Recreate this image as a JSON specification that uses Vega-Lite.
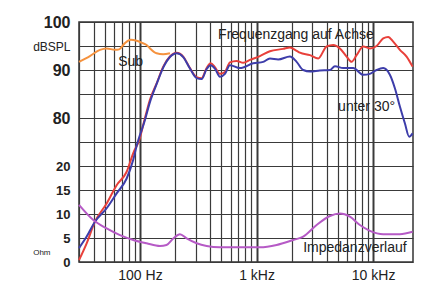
{
  "$schema": "https://vega.github.io/schema/vega-lite/v6.json",
  "width": 334,
  "height": 240,
  "autosize": "none",
  "padding": {"left": 79, "top": 22, "right": 28, "bottom": 25},
  "background": "white",
  "config": {
    "view": {"stroke": "#333333", "strokeWidth": 1.5},
    "font": "Liberation Sans"
  },
  "datasets": {
    "spl": [
      {"series": "Sub", "freq": 30, "db": 91.7},
      {"series": "Sub", "freq": 37.2, "db": 92.9},
      {"series": "Sub", "freq": 45.4, "db": 94.2},
      {"series": "Sub", "freq": 51.8, "db": 94.5},
      {"series": "Sub", "freq": 61, "db": 94.2},
      {"series": "Sub", "freq": 66.4, "db": 94.3},
      {"series": "Sub", "freq": 74.3, "db": 95.6},
      {"series": "Sub", "freq": 83.2, "db": 96.3},
      {"series": "Sub", "freq": 93.7, "db": 96.1},
      {"series": "Sub", "freq": 103, "db": 95.7},
      {"series": "Sub", "freq": 114, "db": 95.2},
      {"series": "Sub", "freq": 122, "db": 94.5},
      {"series": "Sub", "freq": 139, "db": 93.5},
      {"series": "Sub", "freq": 158, "db": 93.3},
      {"series": "Sub", "freq": 181, "db": 93.5},
      {"series": "Achse", "freq": 30, "db": 50.4},
      {"series": "Achse", "freq": 34.9, "db": 53.9},
      {"series": "Achse", "freq": 41.1, "db": 58.4},
      {"series": "Achse", "freq": 51.8, "db": 62.2},
      {"series": "Achse", "freq": 63.1, "db": 66.0},
      {"series": "Achse", "freq": 76.9, "db": 68.8},
      {"series": "Achse", "freq": 87.6, "db": 72.7},
      {"series": "Achse", "freq": 98.6, "db": 75.4},
      {"series": "Achse", "freq": 110.4, "db": 80.0},
      {"series": "Achse", "freq": 121.8, "db": 83.8},
      {"series": "Achse", "freq": 139.1, "db": 87.2},
      {"series": "Achse", "freq": 158.4, "db": 90.7},
      {"series": "Achse", "freq": 180.8, "db": 92.8},
      {"series": "Achse", "freq": 206.4, "db": 93.6},
      {"series": "Achse", "freq": 235.1, "db": 92.8},
      {"series": "Achse", "freq": 268.5, "db": 90.4},
      {"series": "Achse", "freq": 306.4, "db": 88.5},
      {"series": "Achse", "freq": 338.2, "db": 88.3},
      {"series": "Achse", "freq": 373.3, "db": 90.4},
      {"series": "Achse", "freq": 404.0, "db": 91.4},
      {"series": "Achse", "freq": 439.8, "db": 90.6},
      {"series": "Achse", "freq": 485.5, "db": 89.2},
      {"series": "Achse", "freq": 535.8, "db": 89.6},
      {"series": "Achse", "freq": 591.3, "db": 91.6},
      {"series": "Achse", "freq": 675.1, "db": 91.9},
      {"series": "Achse", "freq": 769.0, "db": 91.5},
      {"series": "Achse", "freq": 877.7, "db": 92.1},
      {"series": "Achse", "freq": 1069.5, "db": 92.9},
      {"series": "Achse", "freq": 1302.8, "db": 93.9},
      {"series": "Achse", "freq": 1694, "db": 94.4},
      {"series": "Achse", "freq": 1934, "db": 94.7},
      {"series": "Achse", "freq": 2208, "db": 94.0},
      {"series": "Achse", "freq": 2357, "db": 93.6},
      {"series": "Achse", "freq": 2871, "db": 93.1},
      {"series": "Achse", "freq": 3382, "db": 92.4},
      {"series": "Achse", "freq": 3993, "db": 94.9},
      {"series": "Achse", "freq": 4549, "db": 95.2},
      {"series": "Achse", "freq": 5192, "db": 94.5},
      {"series": "Achse", "freq": 5925, "db": 92.8},
      {"series": "Achse", "freq": 6540, "db": 91.7},
      {"series": "Achse", "freq": 7220, "db": 93.1},
      {"series": "Achse", "freq": 8226, "db": 94.9},
      {"series": "Achse", "freq": 9387, "db": 94.5},
      {"series": "Achse", "freq": 10720, "db": 95.0},
      {"series": "Achse", "freq": 12210, "db": 96.6},
      {"series": "Achse", "freq": 13480, "db": 96.9},
      {"series": "Achse", "freq": 14880, "db": 95.9},
      {"series": "Achse", "freq": 16980, "db": 94.2},
      {"series": "Achse", "freq": 19380, "db": 92.8},
      {"series": "Achse", "freq": 21820, "db": 90.7},
      {"series": "30°", "freq": 30, "db": 52.9},
      {"series": "30°", "freq": 34.9, "db": 55.3},
      {"series": "30°", "freq": 41.1, "db": 58.4},
      {"series": "30°", "freq": 51.8, "db": 61.2},
      {"series": "30°", "freq": 63.1, "db": 64.3},
      {"series": "30°", "freq": 76.9, "db": 67.4},
      {"series": "30°", "freq": 87.6, "db": 71.3},
      {"series": "30°", "freq": 93.7, "db": 74.2},
      {"series": "30°", "freq": 110.4, "db": 79.6},
      {"series": "30°", "freq": 121.8, "db": 83.3},
      {"series": "30°", "freq": 139.1, "db": 87.1},
      {"series": "30°", "freq": 158.4, "db": 90.5},
      {"series": "30°", "freq": 180.8, "db": 92.7},
      {"series": "30°", "freq": 206.4, "db": 93.5},
      {"series": "30°", "freq": 235.1, "db": 92.7},
      {"series": "30°", "freq": 268.5, "db": 90.3},
      {"series": "30°", "freq": 306.4, "db": 88.3},
      {"series": "30°", "freq": 338.2, "db": 88.1},
      {"series": "30°", "freq": 373.3, "db": 90.2},
      {"series": "30°", "freq": 404.0, "db": 91.0},
      {"series": "30°", "freq": 439.8, "db": 90.3},
      {"series": "30°", "freq": 485.5, "db": 88.6},
      {"series": "30°", "freq": 535.8, "db": 89.2},
      {"series": "30°", "freq": 591.3, "db": 91.0},
      {"series": "30°", "freq": 720.4, "db": 90.4},
      {"series": "30°", "freq": 937.0, "db": 91.4},
      {"series": "30°", "freq": 1141.6, "db": 91.7},
      {"series": "30°", "freq": 1302.8, "db": 92.4},
      {"series": "30°", "freq": 1535, "db": 92.2},
      {"series": "30°", "freq": 1934, "db": 92.8},
      {"series": "30°", "freq": 2208, "db": 91.7},
      {"series": "30°", "freq": 2515, "db": 90.0},
      {"series": "30°", "freq": 2871, "db": 89.7},
      {"series": "30°", "freq": 3497, "db": 89.9},
      {"series": "30°", "freq": 4262, "db": 90.0},
      {"series": "30°", "freq": 4704, "db": 90.8},
      {"series": "30°", "freq": 5541, "db": 90.4},
      {"series": "30°", "freq": 6750, "db": 90.4},
      {"series": "30°", "freq": 8226, "db": 89.0},
      {"series": "30°", "freq": 9387, "db": 89.2},
      {"series": "30°", "freq": 10720, "db": 90.0},
      {"series": "30°", "freq": 12210, "db": 90.4},
      {"series": "30°", "freq": 13930, "db": 89.0},
      {"series": "30°", "freq": 15380, "db": 86.2},
      {"series": "30°", "freq": 16980, "db": 82.4},
      {"series": "30°", "freq": 18740, "db": 78.9},
      {"series": "30°", "freq": 20400, "db": 76.1},
      {"series": "30°", "freq": 21820, "db": 76.8}
    ],
    "impedance": [
      {"freq": 30, "ohm": 11.9},
      {"freq": 39.8, "ohm": 8.75},
      {"freq": 51.8, "ohm": 7.0},
      {"freq": 67.4, "ohm": 5.6},
      {"freq": 87.6, "ohm": 4.6},
      {"freq": 114.1, "ohm": 3.9},
      {"freq": 148.4, "ohm": 3.33},
      {"freq": 169, "ohm": 3.54},
      {"freq": 193, "ohm": 4.9},
      {"freq": 220.3, "ohm": 5.8},
      {"freq": 251.5, "ohm": 4.9},
      {"freq": 306.4, "ohm": 3.9},
      {"freq": 373.3, "ohm": 3.33},
      {"freq": 485.5, "ohm": 3.06},
      {"freq": 1069.5, "ohm": 3.06},
      {"freq": 1488, "ohm": 3.54},
      {"freq": 2064, "ohm": 4.58},
      {"freq": 2515, "ohm": 5.27},
      {"freq": 3277, "ohm": 7.7},
      {"freq": 4262, "ohm": 9.58},
      {"freq": 5192, "ohm": 10.1},
      {"freq": 6324, "ohm": 9.44},
      {"freq": 7704, "ohm": 7.7},
      {"freq": 9387, "ohm": 6.5},
      {"freq": 12210, "ohm": 5.8},
      {"freq": 16980, "ohm": 5.8},
      {"freq": 21820, "ohm": 6.3}
    ],
    "notes": [
      {"label": "Sub", "freq": 83.2, "db": 91.7},
      {"label": "Frequenzgang auf Achse", "freq": 2178, "db": 97.3},
      {"label": "unter 30°", "freq": 8795, "db": 82.35},
      {"label": "Impedanzverlauf", "freq": 6982, "db": 52.85}
    ]
  },
  "layer": [
    {
      "data": {"name": "spl"},
      "mark": {"type": "line", "strokeWidth": 2, "interpolate": "monotone"},
      "encoding": {
        "x": {
          "field": "freq", "type": "quantitative",
          "scale": {"type": "log", "domain": [30, 22000], "nice": false},
          "axis": {
            "title": null,
            "values": [30, 40, 50, 60, 70, 80, 90, 100, 200, 300, 400, 500, 600, 700, 800, 900, 1000, 2000, 3000, 4000, 5000, 6000, 7000, 8000, 9000, 10000],
            "labelExpr": "datum.value == 100 ? '100 Hz' : datum.value == 1000 ? '1 kHz' : datum.value == 10000 ? '10 kHz' : ''",
            "ticks": false,
            "domain": false,
            "grid": true,
            "gridColor": "#3a3a3a",
            "gridWidth": {"condition": {"test": "datum.value == 100 || datum.value == 1000 || datum.value == 10000", "value": 2}, "value": 1.2},
            "labelFontSize": 14,
            "labelColor": "#222222",
            "labelPadding": 6,
            "labelFlush": false,
            "labelOverlap": false
          }
        },
        "y": {
          "field": "db", "type": "quantitative",
          "scale": {"domain": [50, 100], "nice": false, "zero": false},
          "axis": {
            "title": null,
            "values": [50, 52, 55, 60, 65, 70, 75, 80, 85, 90, 95, 100],
            "labelExpr": "datum.value == 100 ? '100' : datum.value == 95 ? 'dBSPL' : datum.value == 90 ? '90' : datum.value == 80 ? '80' : datum.value == 70 ? '20' : datum.value == 65 ? '15' : datum.value == 60 ? '10' : datum.value == 55 ? '5' : datum.value == 50 ? '0' : datum.value == 52 ? 'Ohm' : ''",
            "ticks": false,
            "domain": false,
            "grid": true,
            "gridColor": "#3a3a3a",
            "gridWidth": 1.2,
            "gridOpacity": {"condition": {"test": "datum.value == 52", "value": 0}, "value": 1},
            "labelFontSize": {"condition": [
              {"test": "datum.value == 95", "value": 12},
              {"test": "datum.value == 52", "value": 8},
              {"test": "datum.value >= 80", "value": 16}
            ], "value": 13},
            "labelFontWeight": {"condition": [
              {"test": "datum.value == 95 || datum.value == 52", "value": "normal"}
            ], "value": "bold"},
            "labelPadding": {"condition": {"test": "datum.value == 52", "value": 29}, "value": 9},
            "labelColor": "#222222",
            "labelOverlap": false,
            "labelFlush": false
          }
        },
        "color": {
          "field": "series", "type": "nominal",
          "scale": {"domain": ["Sub", "Achse", "30°"], "range": ["#f5923e", "#e8403a", "#3d3daa"]},
          "legend": null
        }
      }
    },
    {
      "data": {"name": "impedance"},
      "mark": {"type": "line", "strokeWidth": 2, "interpolate": "monotone", "color": "#b65ac6"},
      "encoding": {
        "x": {"field": "freq", "type": "quantitative", "scale": {"type": "log", "domain": [30, 22000], "nice": false}},
        "y": {"field": "ohm", "type": "quantitative", "scale": {"domain": [0, 50], "nice": false}, "axis": null}
      }
    },
    {
      "data": {"name": "notes"},
      "mark": {"type": "text", "fontSize": 14, "color": "#222222", "align": "center", "baseline": "middle"},
      "encoding": {
        "x": {"field": "freq", "type": "quantitative", "scale": {"type": "log", "domain": [30, 22000], "nice": false}},
        "y": {"field": "db", "type": "quantitative", "scale": {"domain": [50, 100], "nice": false, "zero": false}, "axis": null},
        "text": {"field": "label"}
      }
    }
  ],
  "resolve": {"scale": {"y": "independent"}}
}
